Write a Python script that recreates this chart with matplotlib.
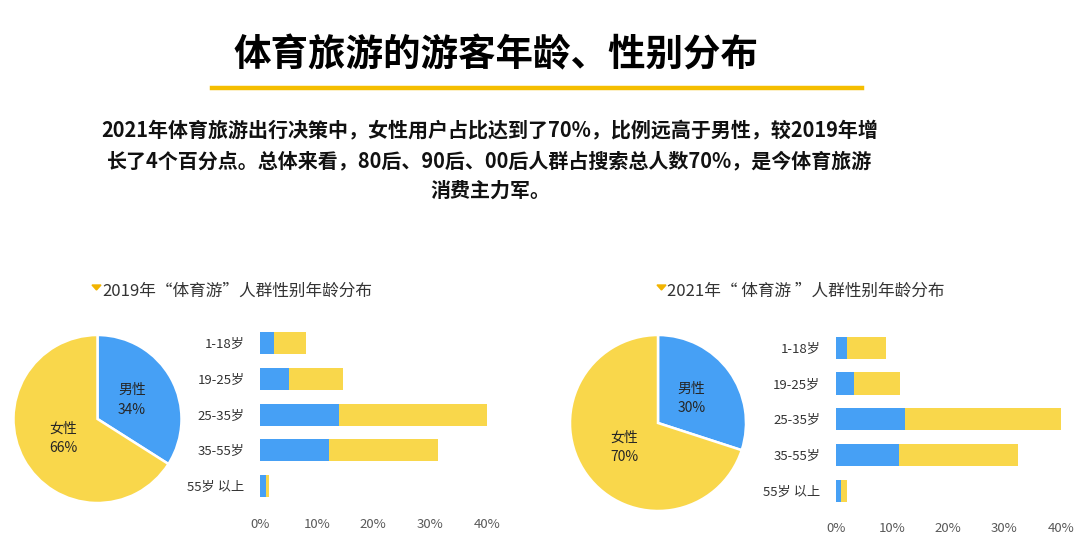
import matplotlib
matplotlib.use("Agg")
import matplotlib.pyplot as plt
from matplotlib.patches import Polygon
from matplotlib.lines import Line2D

plt.rcParams['font.family'] = ['Noto Sans CJK SC', 'DejaVu Sans']

# ---------------- data ----------------
title = "体育旅游的游客年龄、性别分布"
para_lines = [
    "2021年体育旅游出行决策中，女性用户占比达到了70%，比例远高于男性，较2019年增",
    "长了4个百分点。总体来看，80后、90后、00后人群占搜索总人数70%，是今体育旅游",
    "消费主力军。",
]
sub_2019 = "2019年“体育游”人群性别年龄分布"
sub_2021 = "2021年“ 体育游 ”人群性别年龄分布"

genders = ["男性", "女性"]
pie_2019 = [34, 66]
pie_2021 = [30, 70]

ages = ["1-18岁", "19-25岁", "25-35岁", "35-55岁", "55岁 以上"]
male_2019 = [2.5, 5.2, 13.9, 12.1, 1.0]
female_2019 = [5.7, 9.4, 26.1, 19.3, 0.5]
male_2021 = [2.0, 3.2, 12.3, 11.2, 0.9]
female_2021 = [6.9, 8.2, 27.7, 21.2, 1.1]

xticks = [0, 10, 20, 30, 40]
xtick_labels = ["0%", "10%", "20%", "30%", "40%"]

BLUE = "#46A0F5"
YELLOW = "#F9D74B"
GOLD = "#F5BE00"

W, H = 1080, 552
fig = plt.figure(figsize=(W / 100, H / 100), dpi=100)
fig.patch.set_facecolor("white")


def fx(x):
    return x / W


def fy(y):
    return 1 - y / H


def axes_px(left, top, right, bottom):
    return fig.add_axes([fx(left), fy(bottom), (right - left) / W, (bottom - top) / H])


# title
fig.text(fx(496), fy(55), title, ha="center", va="center", fontsize=27,
         fontweight="bold", color="#000000")
fig.add_artist(Line2D([fx(212), fx(862)], [fy(88), fy(88)], color=GOLD, lw=3.2,
                      transform=fig.transFigure))

# paragraph
for line, y in zip(para_lines, [131, 161, 190]):
    fig.text(fx(490), fy(y), line, ha="center", va="center", fontsize=14.4,
             fontweight="bold", color="#111111")

# subtitles with triangles
for x0, txt in [(92, sub_2019), (657, sub_2021)]:
    tri = Polygon([[fx(x0), fy(285)], [fx(x0 + 9), fy(285)], [fx(x0 + 4.5), fy(290)]],
                  closed=True, transform=fig.transFigure, color="#F2B400")
    fig.add_artist(tri)
    fig.text(fx(x0 + 10), fy(291), txt, ha="left", va="center", fontsize=12,
             color="#333333")


def draw_pie(cx, cy, r, values):
    pad = 1.06
    ax = axes_px(cx - r * pad, cy - r * pad, cx + r * pad, cy + r * pad)
    wedges, texts, autotexts = ax.pie(
        values, colors=[BLUE, YELLOW], startangle=90, counterclock=False,
        autopct="%d%%", pctdistance=0.47,
        wedgeprops=dict(edgecolor="white", linewidth=1.8),
        textprops=dict(fontsize=10, color="#262626"))
    for t, g, v in zip(autotexts, genders, values):
        t.set_text(f"{g}\n{v}%")
        t.set_linespacing(1.5)
    ax.set_xlim(-pad, pad)
    ax.set_ylim(-pad, pad)
    ax.set_aspect("equal")
    ax.axis("off")


def draw_bars(left, right, top_row, bottom_row, male, female):
    step = (bottom_row - top_row) / (len(ages) - 1)
    ax = axes_px(left, top_row - step / 2, right, bottom_row + step / 2)
    y = list(range(len(ages)))
    ax.barh(y, male, height=0.62, color=BLUE)
    ax.barh(y, female, left=male, height=0.62, color=YELLOW)
    ax.set_xlim(0, 40)
    ax.set_ylim(len(ages) - 0.5, -0.5)
    ax.set_yticks(y)
    ax.set_yticklabels(ages, fontsize=9.5, color="#333333")
    ax.set_xticks(xticks)
    ax.set_xticklabels(xtick_labels, fontsize=9.5, color="#595959")
    ax.tick_params(axis="y", length=0, pad=11)
    ax.tick_params(axis="x", length=0, pad=10)
    for s in ax.spines.values():
        s.set_visible(False)
    ax.patch.set_alpha(0)


draw_pie(97.5, 419, 84, pie_2019)
draw_pie(658, 423, 88, pie_2021)
draw_bars(260, 486.7, 343.3, 486, male_2019, female_2019)
draw_bars(835.7, 1060.7, 347.7, 490.7, male_2021, female_2021)

fig.savefig("out.png", dpi=100)
